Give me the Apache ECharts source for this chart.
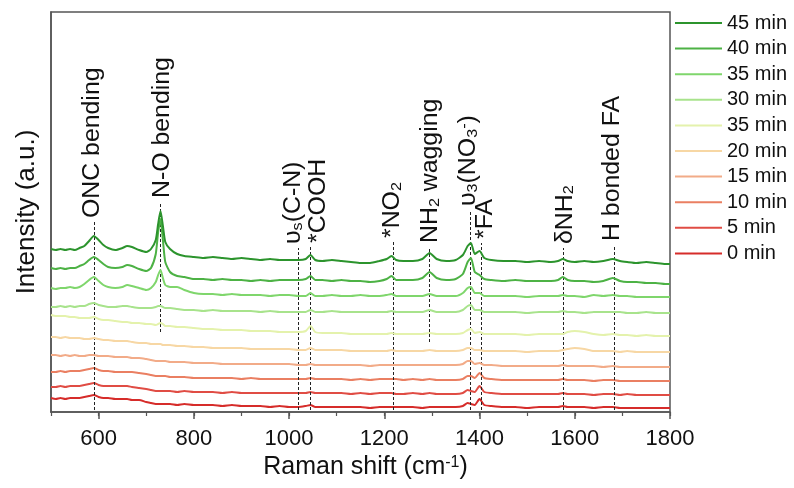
<!DOCTYPE html>
<html>
<head>
<meta charset="utf-8">
<script src="https://cdn.jsdelivr.net/npm/echarts@6/dist/echarts.min.js"></script>
<style>
  html, body { margin: 0; padding: 0; background: #fff; }
  #chart { width: 794px; height: 488px; }
</style>
</head>
<body>
<div id="chart"></div>
<script>
// Raman shift axis samples (cm-1)
const shifts = [
  500,510,520,530,540,550,560,570,580,590,
  600,610,620,635,650,660,670,685,700,710,
  720,725,730,735,740,750,765,780,800,820,
  840,860,880,900,920,940,960,980,1000,1020,
  1035,1045,1055,1070,1090,1110,1130,1150,1170,1190,
  1205,1215,1225,1240,1260,1280,1295,1310,1330,1350,
  1365,1375,1382,1390,1400,1410,1425,1450,1475,1500,
  1525,1550,1565,1575,1585,1600,1620,1640,1660,1680,
  1695,1710,1730,1750,1770,1790,1800
];

// Stacked spectra (offset intensity, a.u.)
const int45 = [
  163,162,163,162,163,162,164,166,171,176,
  172,167,164,162,164,166,165,162,160,163,
  172,188,201,186,170,163,158,156,155,154,
  155,154,153,154,153,152,153,152,152,152,
  153,157,152,151,152,151,150,149,149,151,
  153,156,152,151,151,153,159,153,151,152,
  157,166,169,158,161,154,152,151,151,150,
  151,150,151,153,151,150,151,150,151,153,
  151,150,149,150,149,148,148
];
const int40 = [
  144,143,144,143,144,144,146,148,152,155,
  152,148,145,144,145,147,146,143,141,144,
  158,180,193,172,150,140,136,135,133,133,
  132,133,132,132,131,132,131,132,132,132,
  133,136,132,132,131,132,131,131,130,131,
  133,136,132,132,132,134,140,134,132,133,
  138,150,154,140,137,133,132,131,132,131,
  131,131,132,135,132,131,131,130,131,134,
  131,130,130,129,129,128,128
];
const int35 = [
  124,123,124,124,125,124,125,128,132,135,
  131,127,125,124,125,127,126,124,122,124,
  130,137,142,134,127,125,125,122,119,118,
  118,117,118,117,117,117,116,117,117,116,
  116,119,116,116,117,116,116,117,116,116,
  117,118,116,116,116,116,118,116,116,116,
  119,124,125,119,119,116,116,116,116,115,
  116,116,116,117,116,116,115,117,116,117,
  116,116,115,115,115,115,115
];
const int30 = [
  105,105,106,105,106,105,106,106,108,109,
  107,106,105,105,106,106,105,104,104,104,
  105,106,106,105,104,104,103,102,102,101,
  102,101,101,101,101,100,101,100,100,100,
  100,102,100,100,101,100,100,100,100,100,
  100,101,100,100,100,100,102,100,100,100,
  102,106,107,102,102,100,100,100,100,99,
  100,100,100,101,100,100,99,100,100,100,
  100,99,99,100,99,99,99
];
const int25 = [
  97,96,96,96,95,95,94,94,94,95,
  93,92,92,91,90,90,89,89,88,88,
  87,88,89,88,86,86,85,85,84,83,
  83,82,82,82,81,81,81,80,80,80,
  81,86,80,79,79,79,78,78,78,78,
  78,79,78,78,78,78,79,78,78,78,
  79,82,83,79,80,78,78,78,78,77,
  78,78,78,78,80,81,80,78,77,78,
  77,77,76,77,76,76,76
];
const int20 = [
  75,75,74,75,74,74,74,73,73,74,
  73,72,72,71,71,71,70,69,69,68,
  68,68,68,67,67,67,66,66,65,65,
  64,64,64,64,63,63,63,63,63,62,
  62,64,62,62,62,62,61,61,61,61,
  61,62,61,61,61,61,62,61,61,61,
  62,64,64,62,62,61,61,61,61,60,
  61,61,61,62,63,64,63,61,61,61,
  60,61,60,60,60,60,60
];
const int15 = [
  57,57,56,57,56,57,56,56,57,57,
  56,56,56,55,55,55,54,54,53,52,
  51,51,51,51,51,50,50,50,49,49,
  49,48,48,48,48,48,48,48,48,47,
  47,48,47,47,47,47,47,47,46,47,
  47,47,47,47,47,47,47,47,47,47,
  48,51,51,48,49,47,47,46,46,46,
  46,46,46,47,46,46,46,46,45,46,
  45,45,45,45,45,45,45
];
const int10 = [
  40,40,41,40,41,41,41,42,43,44,
  42,41,41,40,40,40,40,39,38,37,
  36,36,36,36,36,35,35,35,34,34,
  34,34,34,33,34,33,33,33,33,33,
  33,34,33,33,33,33,32,33,32,33,
  33,33,33,32,33,32,33,32,32,32,
  33,36,36,34,39,34,33,32,32,32,
  32,32,32,33,32,32,32,31,32,32,
  31,31,31,31,31,31,31
];
const int5 = [
  25,25,26,25,26,26,26,27,28,29,
  27,26,26,26,26,26,25,24,23,22,
  21,21,21,21,21,21,20,21,20,20,
  20,19,20,19,19,19,19,19,19,19,
  19,20,19,19,19,19,18,19,18,19,
  19,19,18,18,19,18,19,18,18,18,
  19,22,21,20,26,20,19,18,18,18,
  18,18,18,19,18,18,18,17,18,18,
  17,18,17,17,17,17,17
];
const int0 = [
  14,13,14,13,14,14,14,15,16,17,
  15,14,14,13,13,13,12,12,10,9,
  8,8,8,8,8,8,7,8,7,7,
  7,6,7,6,6,6,5,6,5,5,
  6,7,5,5,5,5,5,5,4,5,
  5,5,5,5,5,4,5,5,5,5,
  6,9,8,7,13,7,6,5,5,4,
  5,5,5,6,5,5,5,4,5,5,
  4,4,4,4,4,4,4
];

// Series, bottom to top
const seriesNames = ['0 min','5 min','10 min','15 min','20 min','25 min','30 min','35 min','40 min','45 min'];
const legendLabels = ['0 min','5 min','10 min','15 min','20 min','35 min','30 min','35 min','40 min','45 min'];
const spectra = [int0, int5, int10, int15, int20, int25, int30, int35, int40, int45];

// Band assignments
const bandShifts = [590, 730, 1020, 1045, 1218, 1295, 1380, 1403, 1576, 1682];
const bandTops = [190, 210, 164, 165, 170, 165, 202, 169, 164, 167];
const bandBottoms = [2, 80, 2, 2, 2, 70, 2, 2, 2, 2];
const bandLabels = [
  'ONC bending',
  'N-O bending',
  '\u03c5{sub|s}(C-N)',
  '*COOH',
  '*NO{sub|2}',
  'NH{sub|2} wagging',
  '\u03c5{sub|3}(NO{sub|3}{sup|-})',
  '*FA',
  '\u03b4NH{sub|2}',
  'H bonded FA'
];

const majorTicks = [600, 800, 1000, 1200, 1400, 1600, 1800];

// Styling
const colors = ['#d62c2a','#e04c44','#ea7f62','#f2ab88','#f7d7a4','#e4f2ac','#a8e38c','#7fd66c','#4db245','#2c942d'];
const labelNudge = [-1, 2, -5, 8, 0, 1, -1, 5, 2, -1];
const FONT = '"Liberation Sans", Arial, sans-serif';
const AXIS = '#555';

const chart = echarts.init(document.getElementById('chart'), null, { renderer: 'canvas' });

const series = spectra.map((vals, i) => ({
  name: seriesNames[i],
  type: 'line',
  data: shifts.map((x, k) => [x, vals[k]]),
  symbol: 'none',
  smooth: 0.2,
  lineStyle: { width: 2, color: colors[i] },
  itemStyle: { color: colors[i] },
  z: 2 + i,
  silent: true
}));

series[series.length - 1].markLine = {
  silent: true,
  symbol: ['none', 'none'],
  label: { show: false },
  lineStyle: { type: [3, 2], color: '#222', width: 1 },
  data: bandShifts.map((x, i) => [{ coord: [x, bandBottoms[i]] }, { coord: [x, bandTops[i]] }])
};

chart.setOption({
  animation: false,
  textStyle: { fontFamily: FONT },
  grid: { left: 51, right: 124, top: 12, bottom: 76, show: true, borderColor: AXIS, borderWidth: 1.5 },
  xAxis: [{
    type: 'value', min: 500, max: 1800,
    axisLine: { show: true, lineStyle: { color: AXIS, width: 1.5 } },
    axisTick: { show: true, customValues: majorTicks, length: 7, lineStyle: { color: AXIS, width: 1.5 } },
    axisLabel: { customValues: majorTicks, formatter: v => String(v), fontSize: 22, color: '#111', margin: 16, fontFamily: FONT },
    splitLine: { show: false },
    name: 'Raman shift (cm{sup|-1})',
    nameLocation: 'middle',
    nameGap: 43,
    nameTextStyle: {
      fontSize: 25, color: '#111', fontFamily: FONT, padding: [0, 0, 0, 10],
      rich: { sup: { fontSize: 16, verticalAlign: 'top', lineHeight: 12, fontFamily: FONT, color: '#111' } }
    }
  }, {
    type: 'value', min: 500, max: 1800, interval: 100, position: 'bottom',
    axisLine: { show: false },
    axisTick: { show: true, length: 4, lineStyle: { color: AXIS, width: 1.2 } },
    axisLabel: { show: false },
    splitLine: { show: false }
  }],
  yAxis: {
    type: 'value', min: 0, max: 400,
    axisLine: { show: true, lineStyle: { color: AXIS, width: 1.5 } },
    axisTick: { show: false },
    axisLabel: { show: false },
    splitLine: { show: false },
    name: 'Intensity (a.u.)',
    nameLocation: 'middle',
    nameGap: 11,
    nameTextStyle: { fontSize: 26, color: '#111', fontFamily: FONT }
  },
  legend: {
    orient: 'vertical',
    left: 675, top: 12, padding: 0,
    icon: 'rect',
    itemWidth: 47, itemHeight: 2, itemGap: 3.6,
    data: seriesNames.slice().reverse(),
    formatter: name => legendLabels[seriesNames.indexOf(name)],
    textStyle: { fontSize: 20, lineHeight: 22, color: '#111', fontFamily: FONT },
    selectedMode: false
  },
  series: series
});

// Rotated band labels, anchored just above each dashed marker
function placeLabels() {
  const g = bandShifts.map((x, i) => {
    const p = chart.convertToPixel({ xAxisIndex: 0, yAxisIndex: 0 }, [x, bandTops[i]]);
    return {
      type: 'text',
      x: p[0] + labelNudge[i],
      y: p[1] - 4,
      rotation: Math.PI / 2,
      scaleX: 1.08,
      silent: true,
      style: {
        text: bandLabels[i],
        fontSize: 23,
        fontFamily: FONT,
        fill: '#111',
        align: 'left',
        verticalAlign: 'middle',
        rich: {
          sub: { fontSize: 15, fontFamily: FONT, fill: '#111', verticalAlign: 'bottom', lineHeight: 4 },
          sup: { fontSize: 15, fontFamily: FONT, fill: '#111', verticalAlign: 'top', lineHeight: 8 }
        }
      }
    };
  });
  chart.setOption({ graphic: g });
}
placeLabels();
</script>
</body>
</html>
